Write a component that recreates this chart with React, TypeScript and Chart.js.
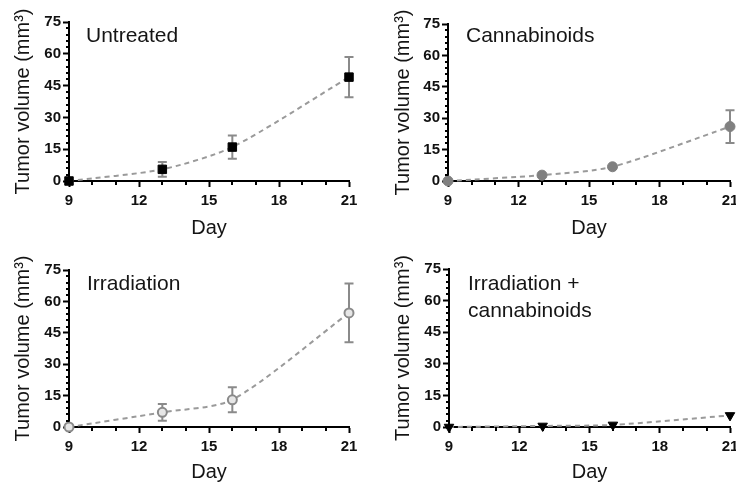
import React, { useEffect, useRef } from 'react';
import { Chart, registerables } from 'chart.js';

Chart.register(...registerables);

// ---- data ----
const days = [9, 13, 16, 21];
const untreated = [0, 5.5, 16, 49];
const untreatedErr = [0, 3.5, 5.5, 9.5];
const cannabinoids = [0, 2.8, 6.8, 26];
const cannabinoidsErr = [0, 0, 0, 7.8];
const irradiation = [0, 7, 13, 54.5];
const irradiationErr = [0, 4, 6, 14];
const combination = [0, 0.5, 1, 5.5];
const combinationErr = [0, 0, 0, 0];

const xTicks = [9, 12, 15, 18, 21];
const yTicks = [0, 15, 30, 45, 60, 75];
const xMinorStep = 1;
const yMinorStep = 3;

const panelTitles = [['Untreated'], ['Cannabinoids'], ['Irradiation'], ['Irradiation +', 'cannabinoids']];
const xTitle = 'Day';
const yTitle = 'Tumor volume (mm³)';

const FONT = "'Liberation Sans', Arial, Helvetica, sans-serif";

type PanelCfg = {
  left: number; top: number; w: number; h: number;
  yWidth: number; padTop: number; padRight: number; xHeight: number; yTitlePad: number;
  titleDx: number; titleDy: number;
  values: number[]; errs: number[];
  pointStyle: any; rotation: number; radius: number;
  pointBg: string; pointBorder: string; pointBorderWidth: number;
  title: string[];
};

const panels: PanelCfg[] = [
  {
    left: 0, top: 0, w: 368, h: 244, yWidth: 69, padTop: 22, padRight: 19, xHeight: 63, yTitlePad: 11,
    titleDx: 17, titleDy: 20, values: untreated, errs: untreatedErr,
    pointStyle: 'rect', rotation: 0, radius: 6, pointBg: '#000', pointBorder: '#000', pointBorderWidth: 1,
    title: panelTitles[0],
  },
  {
    left: 368, top: 0, w: 380, h: 244, yWidth: 80, padTop: 24, padRight: 18, xHeight: 63, yTitlePad: 23,
    titleDx: 18, titleDy: 18, values: cannabinoids, errs: cannabinoidsErr,
    pointStyle: 'circle', rotation: 0, radius: 5, pointBg: '#808080', pointBorder: '#808080', pointBorderWidth: 1,
    title: panelTitles[1],
  },
  {
    left: 0, top: 244, w: 368, h: 244, yWidth: 69, padTop: 26, padRight: 19, xHeight: 61, yTitlePad: 11,
    titleDx: 18, titleDy: 20, values: irradiation, errs: irradiationErr,
    pointStyle: 'circle', rotation: 0, radius: 4.5, pointBg: '#e6e6e6', pointBorder: '#8a8a8a', pointBorderWidth: 2,
    title: panelTitles[2],
  },
  {
    left: 368, top: 244, w: 380, h: 244, yWidth: 81, padTop: 25, padRight: 18, xHeight: 61, yTitlePad: 23,
    titleDx: 19, titleDy: 21, values: combination, errs: combinationErr,
    pointStyle: 'triangle', rotation: 180, radius: 5.5, pointBg: '#000', pointBorder: '#000', pointBorderWidth: 1,
    title: panelTitles[3],
  },
];

function Panel({ cfg }: { cfg: PanelCfg }) {
  const ref = useRef<HTMLCanvasElement>(null);
  useEffect(() => {
    const canvas = ref.current;
    if (!canvas) return;

    const errorBars = {
      id: 'errorBars',
      beforeDatasetsDraw(chart: any) {
        const { ctx, scales } = chart;
        const xs = scales.x, ys = scales.y;
        ctx.save();
        ctx.strokeStyle = '#8a8a8a';
        ctx.lineWidth = 2;
        days.forEach((d, i) => {
          const e = cfg.errs[i];
          if (!e) return;
          const v = cfg.values[i];
          const px = xs.getPixelForValue(d);
          const pTop = ys.getPixelForValue(v + e);
          const pBot = ys.getPixelForValue(Math.max(0, v - e));
          ctx.beginPath();
          ctx.moveTo(px, pTop); ctx.lineTo(px, pBot);
          ctx.moveTo(px - 4.5, pTop); ctx.lineTo(px + 4.5, pTop);
          ctx.moveTo(px - 4.5, pBot); ctx.lineTo(px + 4.5, pBot);
          ctx.stroke();
        });
        ctx.restore();
      },
    };

    const minorTicks = {
      id: 'minorTicks',
      afterDraw(chart: any) {
        const { ctx, scales } = chart;
        const xs = scales.x, ys = scales.y;
        ctx.save();
        ctx.strokeStyle = '#000';
        ctx.lineWidth = 2;
        ctx.beginPath();
        const x0 = xTicks[0], x1 = xTicks[xTicks.length - 1];
        for (let v = x0; v <= x1; v += xMinorStep) {
          if (xTicks.includes(v)) continue;
          const px = Math.round(xs.getPixelForValue(v));
          ctx.moveTo(px, ys.bottom);
          ctx.lineTo(px, ys.bottom + 4);
        }
        const y0 = yTicks[0], y1 = yTicks[yTicks.length - 1];
        for (let v = y0; v <= y1; v += yMinorStep) {
          if (yTicks.includes(v)) continue;
          const py = Math.round(ys.getPixelForValue(v));
          ctx.moveTo(xs.left, py);
          ctx.lineTo(xs.left - 3, py);
        }
        ctx.stroke();
        ctx.restore();
      },
    };

    const panelTitle = {
      id: 'panelTitle',
      afterDraw(chart: any) {
        const { ctx, chartArea } = chart;
        ctx.save();
        ctx.font = `21px ${FONT}`;
        ctx.fillStyle = '#151515';
        ctx.textBaseline = 'alphabetic';
        ctx.textAlign = 'left';
        cfg.title.forEach((line, i) => {
          ctx.fillText(line, chartArea.left + cfg.titleDx, chartArea.top + cfg.titleDy + i * 27);
        });
        ctx.restore();
      },
    };

    const chart = new Chart(canvas, {
      type: 'line',
      data: {
        datasets: [
          {
            data: days.map((d, i) => ({ x: d, y: cfg.values[i] })),
            borderColor: '#9a9a9a',
            borderWidth: 2,
            borderDash: [5, 4],
            tension: 0.25,
            pointStyle: cfg.pointStyle,
            rotation: cfg.rotation,
            pointRadius: cfg.radius,
            pointBackgroundColor: cfg.pointBg,
            pointBorderColor: cfg.pointBorder,
            pointBorderWidth: cfg.pointBorderWidth,
            clip: false as any,
            fill: false,
          },
        ],
      },
      options: {
        responsive: false,
        animation: false,
        devicePixelRatio: 1,
        layout: { padding: { left: 0, top: cfg.padTop, right: cfg.padRight, bottom: 0 } },
        plugins: { legend: { display: false }, tooltip: { enabled: false }, title: { display: false } },
        scales: {
          x: {
            type: 'linear',
            min: xTicks[0],
            max: xTicks[xTicks.length - 1],
            afterBuildTicks: (scale: any) => { scale.ticks = xTicks.map((v) => ({ value: v })); },
            ticks: {
              color: '#111',
              font: { family: FONT, size: 15, weight: 'bold' },
              padding: 5,
              maxRotation: 0,
              autoSkip: false,
            },
            grid: { display: true, drawOnChartArea: false, drawTicks: true, tickLength: 6, tickWidth: 2, tickColor: '#000' },
            border: { display: true, color: '#000', width: 2 },
            title: { display: true, text: xTitle, color: '#151515', font: { family: FONT, size: 20 }, padding: { top: 0, bottom: 4 } },
            afterFit: (scale: any) => { scale.height = cfg.xHeight; },
          },
          y: {
            type: 'linear',
            min: yTicks[0],
            max: yTicks[yTicks.length - 1],
            afterBuildTicks: (scale: any) => { scale.ticks = yTicks.map((v) => ({ value: v })); },
            ticks: {
              color: '#111',
              font: { family: FONT, size: 15, weight: 'bold' },
              padding: 2,
              autoSkip: false,
            },
            grid: { display: true, drawOnChartArea: false, drawTicks: true, tickLength: 6, tickWidth: 2, tickColor: '#000' },
            border: { display: true, color: '#000', width: 2 },
            title: { display: true, text: yTitle, color: '#151515', font: { family: FONT, size: 20 }, padding: { top: cfg.yTitlePad, bottom: 0 } },
            afterFit: (scale: any) => { scale.width = cfg.yWidth; },
          },
        },
      },
      plugins: [errorBars, minorTicks, panelTitle],
    } as any);
    return () => chart.destroy();
  }, []);
  return (
    <canvas
      ref={ref}
      width={cfg.w}
      height={cfg.h}
      style={{ position: 'absolute', left: cfg.left, top: cfg.top, width: cfg.w, height: cfg.h }}
    />
  );
}

export default function App() {
  return (
    <div style={{ position: 'fixed', left: 0, top: 0, width: 736, height: 488, overflow: 'hidden', background: '#fff' }}>
      {panels.map((p, i) => (
        <Panel key={i} cfg={p} />
      ))}
    </div>
  );
}
